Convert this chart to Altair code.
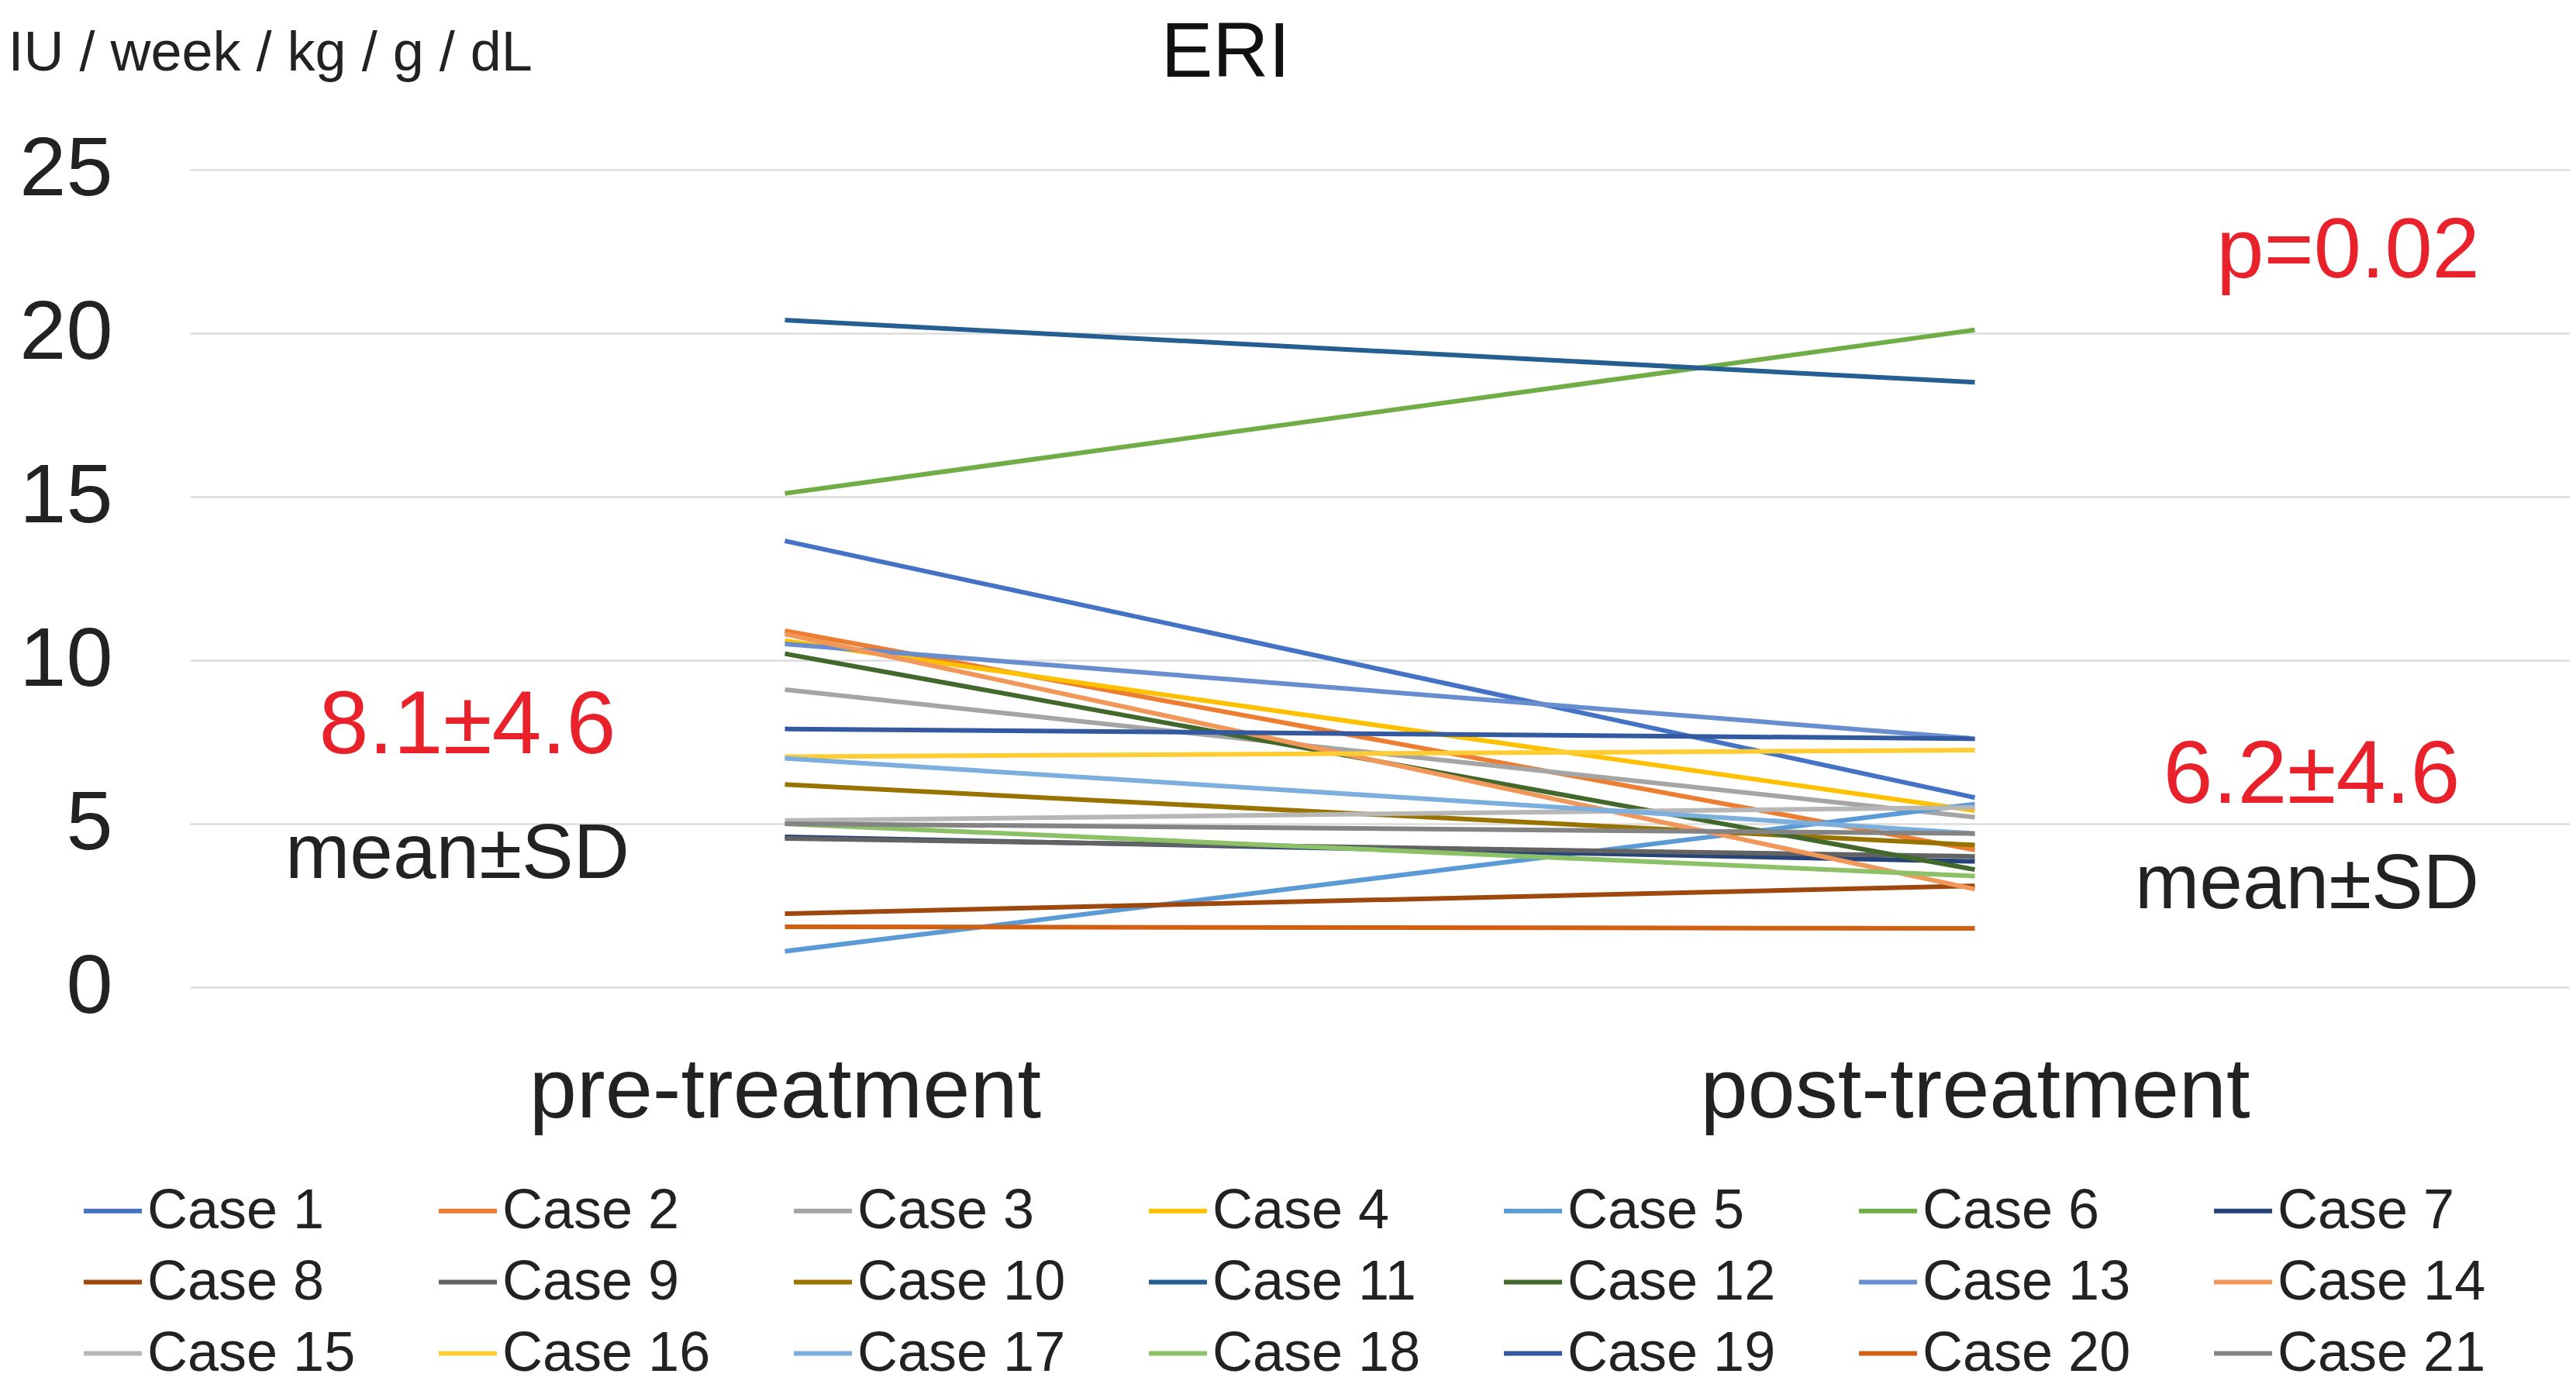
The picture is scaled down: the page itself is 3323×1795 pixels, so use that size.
import altair as alt
import pandas as pd

cases = ["Case 1", "Case 2", "Case 3", "Case 4", "Case 5", "Case 6", "Case 7",
         "Case 8", "Case 9", "Case 10", "Case 11", "Case 12", "Case 13", "Case 14",
         "Case 15", "Case 16", "Case 17", "Case 18", "Case 19", "Case 20", "Case 21"]
colors = ["#4472C4", "#ED7D31", "#A5A5A5", "#FFC000", "#5B9BD5", "#70AD47", "#264478",
          "#9E480E", "#636363", "#997300", "#255E91", "#43682B", "#698ED0", "#F1975A",
          "#B7B7B7", "#FFCD33", "#7CAFDD", "#8CC168", "#335AA1", "#D26012", "#848484"]
phases = ["pre-treatment", "post-treatment"]
pre = [13.65, 10.9, 9.1, 10.6, 1.1, 15.1, 4.6, 2.25, 4.55, 6.2, 20.4, 10.2, 10.5, 10.8,
       5.1, 7.05, 7.0, 5.0, 7.9, 1.85, 5.0]
post = [5.8, 4.2, 5.2, 5.4, 5.6, 20.1, 3.85, 3.1, 4.0, 4.35, 18.5, 3.6, 7.6, 3.0,
        5.5, 7.25, 4.7, 3.4, 7.6, 1.8, 4.7]
y_ticks = [0, 5, 10, 15, 20, 25]

rows = []
for c, a, b in zip(cases, pre, post):
    rows.append({"case": c, "phase": phases[0], "value": a})
    rows.append({"case": c, "phase": phases[1], "value": b})
df = pd.DataFrame(rows)

FONT = "Liberation Sans"
TXT = "#222222"
RED = "#E8212B"
W, H = 3070, 1055

x_enc = alt.X("phase:N", sort=phases,
              scale=alt.Scale(type="point", padding=0.5),
              axis=alt.Axis(title=None, labelFontSize=110, labelPadding=80, ticks=False,
                            domain=False, grid=False, labelAngle=0, labelColor=TXT,
                            labelFont=FONT, labelLimit=2000))
y_enc = alt.Y("value:Q",
              scale=alt.Scale(domain=[0, 25], nice=False, zero=True),
              axis=alt.Axis(values=y_ticks, title="IU / week / kg / g / dL", titleAngle=0,
                            titleAlign="left", titleBaseline="middle", titleX=-235,
                            titleY=-151, titleFontSize=72, titleFontWeight="normal",
                            titleFont=FONT, titleColor=TXT, labelFontSize=108,
                            labelPadding=100, ticks=False, domain=False,
                            gridColor="#DCDCDC", gridWidth=2.5, labelColor=TXT,
                            labelFont=FONT))

lines = alt.Chart(df).mark_line(strokeWidth=6).encode(
    x=x_enc,
    y=y_enc,
    color=alt.Color("case:N",
                    scale=alt.Scale(domain=cases, range=colors),
                    legend=alt.Legend(title=None, orient="none", legendX=-140, legendY=1303,
                                      direction="horizontal", columns=7,
                                      symbolType="stroke", symbolSize=5625,
                                      symbolStrokeWidth=6, labelFontSize=72,
                                      labelFont=FONT, labelColor=TXT, labelLimit=600,
                                      labelOffset=4, columnPadding=95, rowPadding=15,
                                      gridAlign="all")),
    detail="case:N",
)


def note(text, yv, px, size, color):
    d = pd.DataFrame({"t": [text], "value": [yv]})
    return alt.Chart(d).mark_text(fontSize=size, font=FONT, color=color, align="center",
                                  baseline="middle").encode(
        x=alt.value(px), y=alt.Y("value:Q"), text="t:N")


notes = [
    note("8.1±4.6", 7.99, 358, 115, RED),
    note("mean±SD", 4.05, 345, 100, TXT),
    note("6.2±4.6", 6.47, 2737, 115, RED),
    note("mean±SD", 3.13, 2731, 100, TXT),
    note("p=0.02", 22.5, 2784, 110, RED),
]

title_df = pd.DataFrame({"t": ["ERI"]})
title = alt.Chart(title_df).mark_text(fontSize=100, font=FONT, color="#111111",
                                      align="center", baseline="middle").encode(
    x=alt.value(1336), y=alt.value(-150), text="t:N")

chart = alt.layer(lines, *notes, title).properties(
    width=W, height=H,
    autosize=alt.AutoSizeParams(type="none"),
    padding={"left": 237, "top": 211, "right": 0, "bottom": 513},
    background="white",
).configure_view(stroke=None)

chart.save("out.html", embed_options={"renderer": "svg", "actions": False})
